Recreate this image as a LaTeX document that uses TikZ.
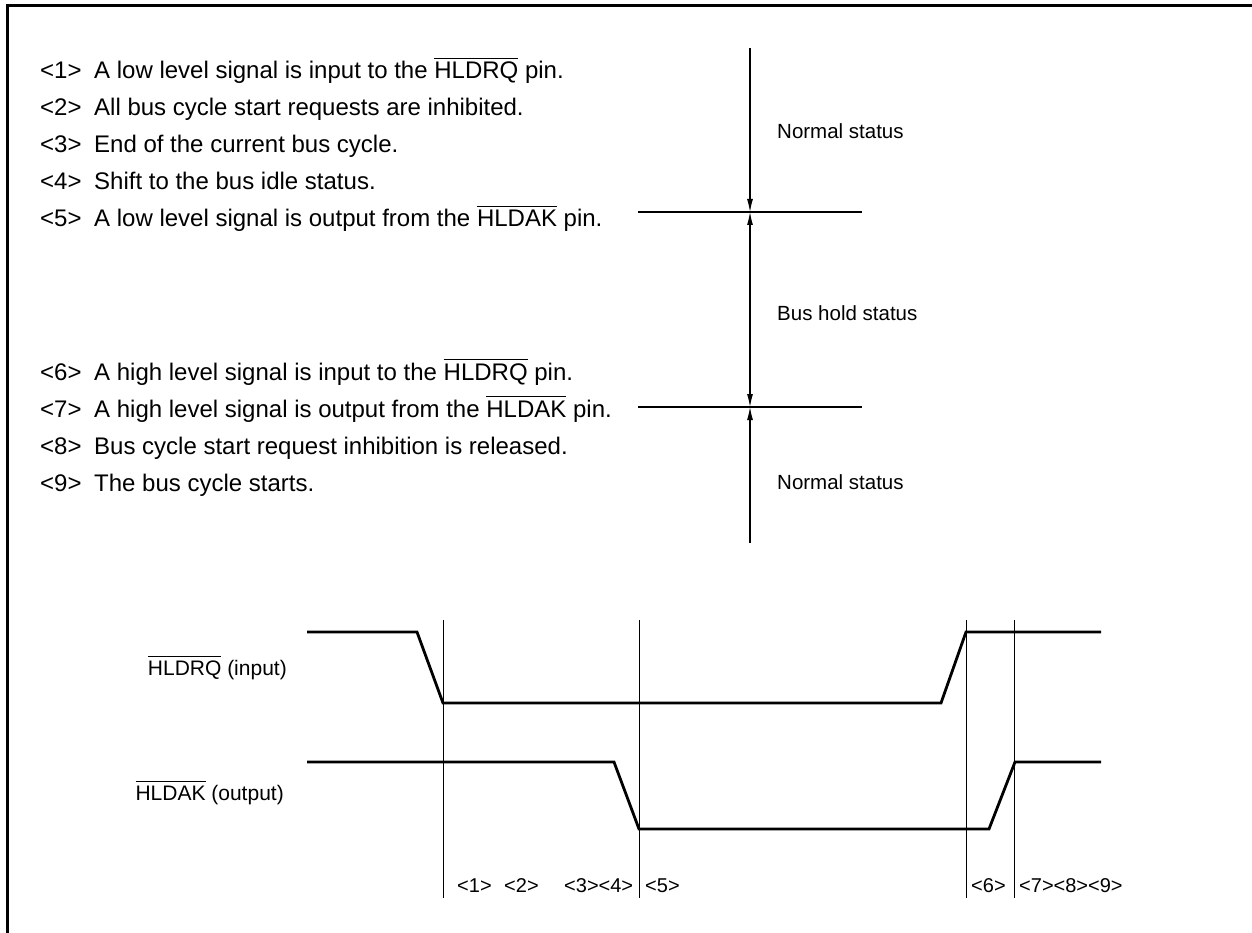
\documentclass[tikz,border=0pt]{standalone}
\usepackage{fontspec}
\setmainfont{Liberation Sans}
\usetikzlibrary{arrows.meta}

\newcommand{\barsig}[1]{$\overline{\mbox{\strut #1}}$}

\begin{document}
\begin{tikzpicture}[x=1pt,y=-1pt,
    wave/.style={line width=2.8pt,line join=miter},
    guide/.style={line width=1.1pt},
    dimtip/.style={guide,>={Latex[length=13pt,width=6pt]}},
    item/.style={anchor=base west,inner sep=0pt,font=\fontsize{24}{28}\selectfont},
    state/.style={anchor=base west,inner sep=0pt,font=\fontsize{20.5}{24}\selectfont},
    signame/.style={anchor=base east,inner sep=0pt,font=\fontsize{21}{25}\selectfont},
    slot/.style={anchor=base west,inner sep=0pt,font=\fontsize{20}{24}\selectfont}]
    \useasboundingbox (0,0) rectangle (1252,933);
    % frame
    \draw[line width=3pt] (7,933) -- (7,6) -- (1252,6);

    % sequence of events
    \node[item] (n1) at (40,79) {<1>};
    \node[item] (t1) at (94,79) {A low level signal is input to the \barsig{HLDRQ} pin.};
    \node[item] (n2) at (40,116) {<2>};
    \node[item] (t2) at (94,116) {All bus cycle start requests are inhibited.};
    \node[item] (n3) at (40,153) {<3>};
    \node[item] (t3) at (94,153) {End of the current bus cycle.};
    \node[item] (n4) at (40,190) {<4>};
    \node[item] (t4) at (94,190) {Shift to the bus idle status.};
    \node[item] (n5) at (40,227) {<5>};
    \node[item] (t5) at (94,227) {A low level signal is output from the \barsig{HLDAK} pin.};
    \node[item] (n6) at (40,380) {<6>};
    \node[item] (t6) at (94,380) {A high level signal is input to the \barsig{HLDRQ} pin.};
    \node[item] (n7) at (40,417) {<7>};
    \node[item] (t7) at (94,417) {A high level signal is output from the \barsig{HLDAK} pin.};
    \node[item] (n8) at (40,454) {<8>};
    \node[item] (t8) at (94,454) {Bus cycle start request inhibition is released.};
    \node[item] (n9) at (40,491) {<9>};
    \node[item] (t9) at (94,491) {The bus cycle starts.};

    % status bar
    \coordinate (bartop) at (750,48);
    \coordinate (holdA) at (750,212);
    \coordinate (holdB) at (750,407);
    \coordinate (barbot) at (750,543);
    \coordinate (holdAl) at (638,212);
    \coordinate (holdAr) at (862,212);
    \coordinate (holdBl) at (638,407);
    \coordinate (holdBr) at (862,407);
    \draw[guide] (holdAl) -- (holdAr);
    \draw[guide] (holdBl) -- (holdBr);
    \draw[dimtip,->] (bartop) -- (holdA);
    \draw[dimtip,<->] (holdA) -- (holdB);
    \draw[dimtip,<-] (holdB) -- (barbot);
    \node[state] (st1) at (777,139) {Normal status};
    \node[state] (st2) at (777,320) {Bus hold status};
    \node[state] (st3) at (777,489) {Normal status};

    % timing
    \node[signame] (rq) at (287,675) {\barsig{HLDRQ} (input)};
    \node[signame] (ak) at (284,800) {\barsig{HLDAK} (output)};
    \draw[wave] (307,632) -- (417,632) -- (443,703) -- (941,703) -- (966,632) -- (1101,632);
    \draw[wave] (307,762) -- (614,762) -- (639,829) -- (989,829) -- (1015,762) -- (1101,762);
    \foreach \x/\nm in {443/m1,639/m5,966/m6,1014/m7} {
        \coordinate (\nm t) at (\x,620);
        \coordinate (\nm b) at (\x,898);
        \draw[line width=1pt] (\nm t) -- (\nm b);
    }
    \node[slot] (s1) at (457,892) {<1>};
    \node[slot] (s2) at (504,892) {<2>};
    \node[slot] (s34) at (564,892) {<3><4>};
    \node[slot] (s5) at (645,892) {<5>};
    \node[slot] (s6) at (971,892) {<6>};
    \node[slot] (s789) at (1019,892) {<7><8><9>};
\end{tikzpicture}
\end{document}
